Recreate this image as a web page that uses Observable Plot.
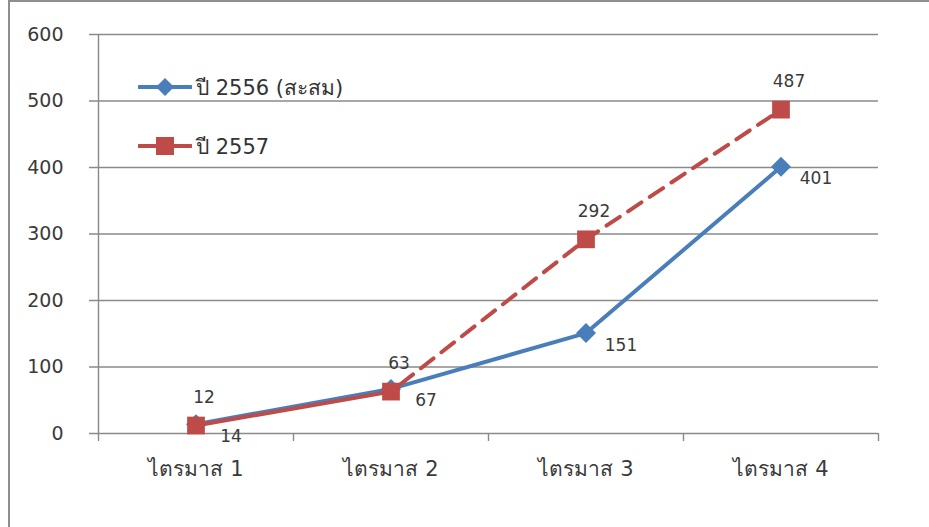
<!DOCTYPE html>
<html>
<head>
<meta charset="utf-8">
<script src="https://cdn.jsdelivr.net/npm/d3@7"></script>
<script src="https://cdn.jsdelivr.net/npm/@observablehq/plot@0.6"></script>
<style>
  html, body { margin: 0; padding: 0; background: #fff; }
  #wrap { position: relative; width: 929px; height: 527px; overflow: hidden; font-family: Tahoma, "DejaVu Sans", sans-serif; }
  #frame { position: absolute; left: 8px; top: 0; width: 1000px; height: 1000px; border-left: 2px solid #8e8e8e; border-top: 2px solid #8e8e8e; pointer-events: none; }
  #legend { position: absolute; left: 138px; top: 70px; font-size: 21px; color: #333; }
  .item { display: flex; align-items: center; height: 34px; margin-bottom: 25px; }
  .item svg { margin-right: 4px; }
</style>
</head>
<body>
<div id="wrap">
  <div id="chart"></div>
  <div id="legend"></div>
  <div id="frame"></div>
</div>
<script>
const categories = ["ไตรมาส 1", "ไตรมาส 2", "ไตรมาส 3", "ไตรมาส 4"];
const series2556 = [14, 67, 151, 401];
const series2557 = [12, 63, 292, 487];
const seriesNames = ["ปี 2556 (สะสม)", "ปี 2557"];
const yTicks = [0, 100, 200, 300, 400, 500, 600];

const blue = "#4a7ebb";
const red = "#be4b48";
const grid = "#8a8a8a";
const textColor = "#3a3a3a";

const blueData = categories.map((c, i) => ({i, c, v: series2556[i]}));
const redData = categories.map((c, i) => ({i, c, v: series2557[i]}));
const boundaries = d3.range(categories.length + 1).map(k => k - 0.5);

const chart = Plot.plot({
  width: 929,
  height: 527,
  marginLeft: 98,
  marginRight: 51,
  marginTop: 34,
  marginBottom: 94,
  x: {domain: [-0.5, categories.length - 0.5], axis: null},
  y: {domain: [0, 600], axis: null},
  style: {fontFamily: 'Tahoma, "DejaVu Sans", sans-serif', color: textColor, background: "transparent", overflow: "visible"},
  marks: [
    Plot.ruleY(yTicks, {stroke: grid, strokeWidth: 1.4, insetLeft: -9}),
    Plot.ruleX([-0.5], {stroke: grid, strokeWidth: 1.4}),
    Plot.axisX({ticks: boundaries, tickSize: 8, tickFormat: () => "", label: null, stroke: grid, strokeWidth: 1.4, strokeOpacity: 1}),
    Plot.axisX({ticks: d3.range(categories.length), tickSize: 0, tickPadding: 28, tickFormat: i => categories[i], label: null, fontSize: 21, fill: textColor}),
    Plot.axisY({ticks: yTicks, tickSize: 0, tickPadding: 35, label: null, fontSize: 19, fill: textColor}),
    // blue series
    Plot.line(blueData, {x: "i", y: "v", stroke: blue, strokeWidth: 4}),
    Plot.dot(blueData, {x: "i", y: "v", symbol: "diamond2", r: 9, fill: blue, stroke: "none"}),
    // red series (solid first segment, dashed afterwards)
    Plot.line(redData.filter(d => d.i <= 1), {x: "i", y: "v", stroke: red, strokeWidth: 4}),
    Plot.line(redData.filter(d => d.i >= 1), {x: "i", y: "v", stroke: red, strokeWidth: 4, strokeDasharray: "16,10", strokeDashoffset: -12}),
    Plot.dot(redData, {x: "i", y: "v", symbol: "square", r: 10, fill: red, stroke: "none"}),
    // labels
    Plot.text(redData, {x: "i", y: "v", text: d => String(d.v), dx: 8, dy: -28, fontSize: 17, fill: textColor}),
    Plot.text(blueData, {x: "i", y: "v", text: d => String(d.v), dx: 35, dy: 12, fontSize: 17, fill: textColor})
  ]
});
document.getElementById("chart").appendChild(chart);

// legend
const legend = document.getElementById("legend");
const items = [
  {name: seriesNames[0], color: blue, shape: "diamond"},
  {name: seriesNames[1], color: red, shape: "square"}
];
for (const it of items) {
  const div = document.createElement("div");
  div.className = "item";
  const svg = d3.create("svg").attr("width", 54).attr("height", 34);
  svg.append("line").attr("x1", 1).attr("x2", 53).attr("y1", 17).attr("y2", 17).attr("stroke", it.color).attr("stroke-width", 4).attr("stroke-linecap", "round");
  if (it.shape === "diamond") {
    svg.append("path").attr("d", "M27,8L36,17L27,26L18,17Z").attr("fill", it.color);
  } else {
    svg.append("rect").attr("x", 18).attr("y", 8).attr("width", 18).attr("height", 18).attr("fill", it.color);
  }
  div.appendChild(svg.node());
  const span = document.createElement("span");
  span.textContent = it.name;
  div.appendChild(span);
  legend.appendChild(div);
}
</script>
</body>
</html>
